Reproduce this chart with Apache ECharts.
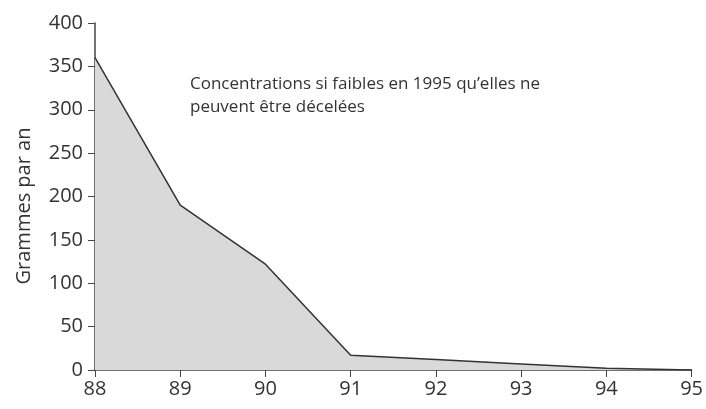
<!DOCTYPE html>
<html>
<head>
<meta charset="utf-8">
<script src="https://cdn.jsdelivr.net/npm/echarts@6/dist/echarts.min.js"></script>
<style>
  html, body { margin: 0; padding: 0; background: #fff; }
</style>
</head>
<body>
<div id="main" style="width: 706px; height: 409px;"></div>
<script>
  // annees (axe x) et quantites en grammes par an
  var years = ['88', '89', '90', '91', '92', '93', '94', '95'];
  var grams = [360, 190, 122, 17, 12, 7, 2, 0];
  var yTicks = [0, 400, 50];
  var yName = 'Grammes par an';
  var note = 'Concentrations si faibles en 1995 qu\u2019elles ne\npeuvent être décelées';

  var chart = echarts.init(document.getElementById('main'));
  chart.setOption({
    animation: false,
    textStyle: { fontFamily: 'Open Sans' },
    grid: { left: 95, right: 13, top: 23, bottom: 39 },
    graphic: [{
      type: 'text',
      left: 190,
      top: 73,
      style: {
        text: note,
        fontFamily: 'Open Sans',
        fontSize: 17,
        lineHeight: 23,
        fill: '#333'
      }
    }, {
      // titre de l'axe y, un peu sous le milieu comme dans l'original
      type: 'text',
      x: 24,
      y: 206,
      rotation: Math.PI / 2,
      style: {
        text: yName,
        fontFamily: 'Open Sans',
        fontSize: 20,
        fill: '#333',
        align: 'center',
        verticalAlign: 'middle'
      }
    }],
    xAxis: {
      type: 'category',
      boundaryGap: false,
      data: years,
      axisLine: { lineStyle: { color: '#444', width: 1.5 } },
      axisTick: { alignWithLabel: true, length: 7, lineStyle: { color: '#444' } },
      axisLabel: { color: '#333', fontSize: 20, margin: 9 }
    },
    yAxis: {
      type: 'value',
      min: yTicks[0],
      max: yTicks[1],
      interval: yTicks[2],
      splitLine: { show: false },
      axisLine: { show: true, lineStyle: { color: '#444', width: 1.5 } },
      axisTick: { show: true, length: 7, lineStyle: { color: '#444' } },
      axisLabel: { color: '#333', fontSize: 20, margin: 12 }
    },
    series: [{
      type: 'line',
      data: grams,
      symbol: 'none',
      lineStyle: { color: '#333', width: 1.5 },
      areaStyle: { color: '#d9d9d9', opacity: 1 }
    }]
  });
</script>
</body>
</html>
